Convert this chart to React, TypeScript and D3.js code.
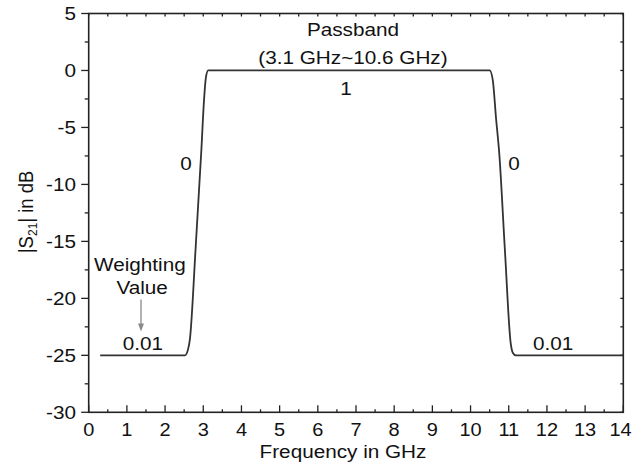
import React from "react";
import * as d3 from "d3";

const FREQ = [0.3, 2.52, 2.6, 2.65, 2.8, 2.95, 3.02, 3.07, 3.13, 10.5, 10.58, 10.67, 10.75, 10.9, 11.05, 11.11, 11.18, 14];
const S21 = [-25, -25, -24.5, -23.6, -15.6, -7, -2.6, -0.6, 0, 0, -0.8, -4.3, -7.2, -15.8, -23.9, -24.8, -25, -25];

const X_TICKS = [0, 1, 2, 3, 4, 5, 6, 7, 8, 9, 10, 11, 12, 13, 14];
const Y_TICKS = [5, 0, -5, -10, -15, -20, -25, -30];

const ANNOTATIONS = [
  { text: "Passband", f: 6.92, v: 3.03 },
  { text: "(3.1 GHz~10.6 GHz)", f: 6.92, v: 0.57 },
  { text: "1", f: 6.74, v: -2.15 },
  { text: "0", f: 2.55, v: -8.74 },
  { text: "0", f: 11.14, v: -8.74 },
  { text: "Weighting", f: 1.34, v: -17.6 },
  { text: "Value", f: 1.4, v: -19.6 },
  { text: "0.01", f: 1.42, v: -24.5 },
  { text: "0.01", f: 12.16, v: -24.5 },
];

const FONT = "'Liberation Sans', Arial, Helvetica, sans-serif";
const FS = 18.5;
const SX = 1.12;

export default function App() {
  const x = d3.scaleLinear().domain([0, 14]).range([88.7, 623.3]);
  const y = d3.scaleLinear().domain([-30, 5]).range([412.3, 13.5]);
  const pts = FREQ.map((f, i) => [f, S21[i]] as [number, number]);
  const line = d3
    .line<[number, number]>()
    .x((d) => x(d[0]))
    .y((d) => y(d[1]))
    .curve(d3.curveMonotoneX);

  const halfX = d3.range(0, 14.01, 0.5);
  const halfY = d3.range(-30, 5.01, 2.5);
  const x0 = x(0), x1 = x(14), y0 = y(-30), y1 = y(5);

  const T = (props: { x: number; y: number; anchor?: string; children: React.ReactNode; dy?: string; sx?: number }) => (
    <text
      transform={`translate(${props.x},${props.y}) scale(${props.sx ?? SX},1)`}
      textAnchor={props.anchor || "middle"}
      dy={props.dy}
      fontFamily={FONT}
      fontSize={FS}
      fill="#111"
    >
      {props.children}
    </text>
  );

  const arrowX = x(1.37);
  const arrowTop = y(-20.1);
  const arrowTip = y(-22.9);

  return (
    <svg width={633} height={465} style={{ position: "absolute", left: 0, top: 0, background: "#fff" }}>
      {/* ticks */}
      <g stroke="#222" strokeWidth={1.3}>
        {halfX.map((v) => {
          const major = Math.abs(v - Math.round(v)) < 1e-6;
          return (
            <g key={"xt" + v}>
              <line x1={x(v)} x2={x(v)} y1={y0} y2={y0 - (major ? 7 : 3)} />
              <line x1={x(v)} x2={x(v)} y1={y1} y2={y1 + 3} />
            </g>
          );
        })}
        {halfY.map((v) => {
          const major = Math.abs(v / 5 - Math.round(v / 5)) < 1e-6;
          return (
            <g key={"yt" + v}>
              <line x1={x0} x2={x0 - (major ? 7.5 : 4)} y1={y(v)} y2={y(v)} />
              <line x1={x1} x2={x1 - 3} y1={y(v)} y2={y(v)} />
            </g>
          );
        })}
      </g>
      {/* frame */}
      <rect x={x0} y={y1} width={x1 - x0} height={y0 - y1} fill="none" stroke="#222" strokeWidth={1.6} />
      {/* curve */}
      <path d={line(pts) || ""} fill="none" stroke="#333" strokeWidth={1.8} />
      {/* tick labels */}
      {X_TICKS.map((v) => (
        <T key={"xl" + v} x={Math.min(x(v), 620.5)} y={436} sx={1.08}>
          {v}
        </T>
      ))}
      {Y_TICKS.map((v) => (
        <T key={"yl" + v} x={76} y={y(v)} anchor="end" dy="0.36em">
          {v}
        </T>
      ))}
      {/* axis titles */}
      <T x={343} y={458}>Frequency in GHz</T>
      <text
        transform={`translate(33,${(y0 + y1) / 2 - 1}) rotate(-90) scale(1,${SX})`}
        textAnchor="middle"
        fontFamily={FONT}
        fontSize={FS}
        fill="#111"
      >
        |S<tspan fontSize={FS * 0.65} dy="4">21</tspan>
        <tspan dy="-4">| in dB</tspan>
      </text>
      {/* annotations */}
      {ANNOTATIONS.map((a, i) => (
        <T key={"an" + i} x={x(a.f)} y={y(a.v)}>
          {a.text}
        </T>
      ))}
      {/* arrow */}
      <line x1={arrowX} x2={arrowX} y1={arrowTop} y2={arrowTip - 7} stroke="#8a8a8a" strokeWidth={1.3} />
      <path
        d={`M${arrowX - 3},${arrowTip - 8} L${arrowX + 3},${arrowTip - 8} L${arrowX},${arrowTip} Z`}
        fill="#8a8a8a"
      />
    </svg>
  );
}
